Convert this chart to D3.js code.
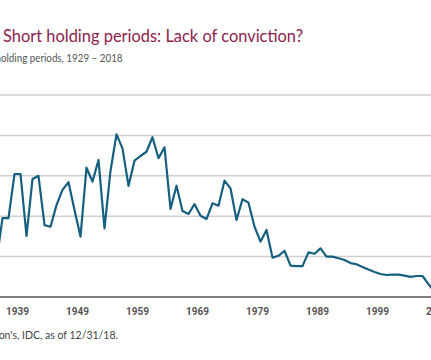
<!DOCTYPE html>
<html>
<head>
<meta charset="utf-8">
<script src="https://cdn.jsdelivr.net/npm/d3@7"></script>
<style>
  html, body { margin: 0; padding: 0; background: #fff; overflow: hidden; }
  svg { display: block; }
</style>
</head>
<body>
<svg id="chart" width="431" height="360"></svg>
<script>
// Data (visible part of the cropped chart)
const years = [1936,1937,1938,1939,1940,1941,1942,1943,1944,1945,1946,1947,1948,1949,
  1950,1951,1952,1953,1954,1955,1956,1957,1958,1959,1960,1961,1962,1963,1964,1965,
  1966,1967,1968,1969,1970,1971,1972,1973,1974,1975,1976,1977,1978,1979,1980,1981,
  1982,1983,1984,1985,1986,1987,1988,1989,1990,1991,1992,1993,1994,1995,1996,1997,
  1998,1999,2000,2001,2002,2003,2004,2005,2006,2007,2008,2009];
const holding = [1.77,3.90,3.90,6.09,6.09,3.02,5.84,6.00,3.56,3.48,4.55,5.30,5.68,4.31,
  2.99,6.40,5.71,6.78,3.40,6.25,8.05,7.36,5.50,6.75,6.98,7.19,7.91,6.87,7.41,4.36,
  5.51,4.26,4.11,4.60,4.02,3.86,4.64,4.52,5.76,5.38,3.81,4.84,4.67,3.48,2.74,3.32,
  1.95,2.04,2.29,1.55,1.53,1.53,2.21,2.14,2.41,2.00,2.00,1.92,1.83,1.68,1.62,1.49,
  1.36,1.24,1.14,1.09,1.11,1.11,1.06,1.00,1.04,1.04,0.64,0.27];
const tickYears = [1939,1949,1959,1969,1979,1989,1999,2009];
const gridValues = [2,4,6,8,10];
const titleText = "Short holding periods: Lack of conviction?";
const subtitleText = "holding periods, 1929 – 2018";
const sourceText = "Barron's, IDC, as of 12/31/18.";

const svg = d3.select("#chart");
const W = 431;

const x = d3.scaleLinear().domain([1939, 2009]).range([14.5, 434.5]);
const y = d3.scaleLinear().domain([0, 10]).range([297, 95]);

// Title
svg.append("text")
  .attr("x", 3).attr("y", 41.5)
  .attr("font-family", "Lato, 'Open Sans', sans-serif")
  .attr("font-size", 17)
  .attr("fill", "#8e1c4c")
  .attr("textLength", 300).attr("lengthAdjust", "spacingAndGlyphs")
  .text(titleText);

// Subtitle (clipped at left)
svg.append("text")
  .attr("x", 122.5).attr("y", 61.5)
  .attr("text-anchor", "end")
  .attr("font-family", "Lato, 'Open Sans', sans-serif")
  .attr("font-size", 10.6)
  .attr("fill", "#555")
  .attr("textLength", 127).attr("lengthAdjust", "spacingAndGlyphs")
  .text(subtitleText);

// Gridlines
svg.append("g").selectAll("line").data(gridValues).join("line")
  .attr("x1", 0).attr("x2", W)
  .attr("y1", d => y(d)).attr("y2", d => y(d))
  .attr("stroke", "#cfcfcf").attr("stroke-width", 1.5);

// X axis
const xAxis = d3.axisBottom(x).tickValues(tickYears).tickSize(0).tickFormat(d3.format("d"));
const gx = svg.append("g").attr("transform", `translate(0,${y(0)})`).call(xAxis);
gx.select(".domain").remove();
gx.selectAll(".tick").attr("transform", d => `translate(${x(d + 0.5)},0)`);
gx.selectAll(".tick text")
  .attr("dy", 0).attr("y", 18)
  .attr("font-family", "Roboto, sans-serif")
  .attr("font-weight", "bold")
  .attr("font-size", 10)
  .attr("fill", "#555");
svg.append("line")
  .attr("x1", 0).attr("x2", W)
  .attr("y1", y(0)).attr("y2", y(0))
  .attr("stroke", "#555").attr("stroke-width", 1.6);

// Line
const line = d3.line().x((d, i) => x(years[i])).y(d => y(d));
svg.append("path")
  .datum(holding)
  .attr("d", line)
  .attr("fill", "none")
  .attr("stroke", "#155f80")
  .attr("stroke-width", 2.2)
  .attr("stroke-linejoin", "round");

// Source
svg.append("text")
  .attr("x", 118).attr("y", 339)
  .attr("text-anchor", "end")
  .attr("font-family", "Lato, 'Open Sans', sans-serif")
  .attr("font-size", 10.5)
  .attr("fill", "#444")
  .text(sourceText);
</script>
</body>
</html>
